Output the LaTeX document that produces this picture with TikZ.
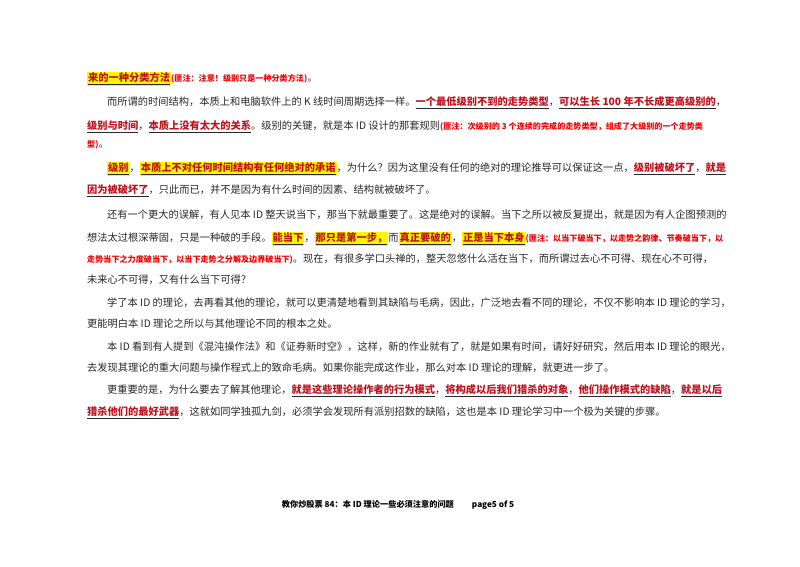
\documentclass[tikz,border=0pt]{standalone}
\usepackage{fontspec}
\setmainfont{Noto Sans CJK SC}
\definecolor{dred}{RGB}{190,20,30}
\definecolor{nred}{RGB}{240,0,0}
\definecolor{hy}{RGB}{255,245,0}
\definecolor{txt}{RGB}{40,40,40}
\newcommand{\myul}[1]{\underline{\textcolor{dred}{\bfseries #1}}}
\newcommand{\myhl}[1]{{\setlength{\fboxsep}{1pt}\colorbox{hy}{\underline{\textcolor{dred}{\bfseries #1}}}}}
\newcommand{\mynote}[1]{{\fontsize{8.1}{9}\selectfont\bfseries\textcolor{nred}{#1}}}
\begin{document}
\begin{tikzpicture}[x=1pt,y=-1pt,
  ln/.style={anchor=west,inner sep=0pt,text=txt,font=\fontsize{10.25}{12}\selectfont},
  ft/.style={anchor=center,inner sep=0pt,font=\fontsize{8.2}{9}\selectfont\bfseries}]
\fill[white] (0,0) rectangle (800,566);
\useasboundingbox (0,0) rectangle (800,566);
\node[ln] (l1) at (87,79) {\myhl{来的一种分类方法}\mynote{(匪注：注意！级别只是一种分类方法)}。};
\node[ln] (l2) at (107,103) {而所谓的时间结构，本质上和电脑软件上的 K 线时间周期选择一样。\myul{一个最低级别不到的走势类型}，\myul{可以生长 100 年不长成更高级别的}，};
\node[ln] (l3) at (87,127) {\myul{级别与时间}，\myul{本质上没有太大的关系}。级别的关键，就是本 ID 设计的那套规则\mynote{(匪注：次级别的 3 个连续的完成的走势类型，组成了大级别的一个走势类}};
\node[ln] (l4) at (87,145) {\mynote{型)}。};
\node[ln] (l5) at (107,169) {\myhl{级别}，\myhl{本质上不对任何时间结构有任何绝对的承诺}，为什么？因为这里没有任何的绝对的理论推导可以保证这一点，\myul{级别被破坏了}，\myul{就是}};
\node[ln] (l6) at (87,191) {\myul{因为被破坏了}，只此而已，并不是因为有什么时间的因素、结构就被破坏了。};
\node[ln] (l7) at (107,215) {还有一个更大的误解，有人见本 ID 整天说当下，那当下就最重要了。这是绝对的误解。当下之所以被反复提出，就是因为有人企图预测的};
\node[ln] (l8) at (87,239) {想法太过根深蒂固，只是一种破的手段。\myhl{能当下}，\myhl{那只是第一步，}而\myhl{真正要破的}，\myhl{正是当下本身}\mynote{(匪注：以当下破当下，以走势之韵律、节奏破当下，以}};
\node[ln] (l9) at (87,259) {\mynote{走势当下之力度破当下，以当下走势之分解及边界破当下)}。现在，有很多学口头禅的，整天忽悠什么活在当下，而所谓过去心不可得、现在心不可得，};
\node[ln] (l10) at (87,280) {未来心不可得，又有什么当下可得？};
\node[ln] (l11) at (107,303) {学了本 ID 的理论，去再看其他的理论，就可以更清楚地看到其缺陷与毛病，因此，广泛地去看不同的理论，不仅不影响本 ID 理论的学习，};
\node[ln] (l12) at (87,324) {更能明白本 ID 理论之所以与其他理论不同的根本之处。};
\node[ln] (l13) at (107,347) {本 ID 看到有人提到《混沌操作法》和《证券新时空》，这样，新的作业就有了，就是如果有时间，请好好研究，然后用本 ID 理论的眼光，};
\node[ln] (l14) at (87,368) {去发现其理论的重大问题与操作程式上的致命毛病。如果你能完成这作业，那么对本 ID 理论的理解，就更进一步了。};
\node[ln] (l15) at (107,391) {更重要的是，为什么要去了解其他理论，\myul{就是这些理论操作者的行为模式}，\myul{将构成以后我们猎杀的对象}，\myul{他们操作模式的缺陷}，\myul{就是以后}};
\node[ln] (l16) at (87,413) {\myul{猎杀他们的最好武器}，这就如同学独孤九剑，必须学会发现所有派别招数的缺陷，这也是本 ID 理论学习中一个极为关键的步骤。};
\node[ft] (ft) at (398,505) {教你炒股票 84：本 ID 理论一些必须注意的问题\hspace{2.2em}page5 of 5};
\end{tikzpicture}
\end{document}
